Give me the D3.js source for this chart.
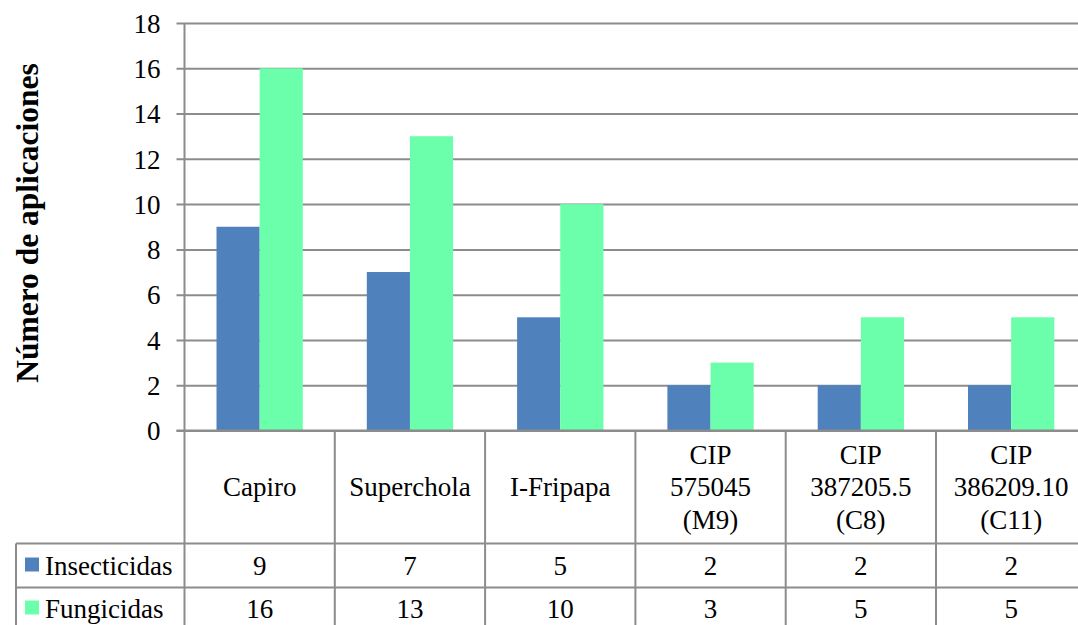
<!DOCTYPE html>
<html>
<head>
<meta charset="utf-8">
<script src="https://cdn.jsdelivr.net/npm/d3@7"></script>
</head>
<body style="margin:0;padding:0;background:#fff">
<svg id="chart" width="1078" height="625" style="display:block;font-family:'Liberation Serif'"></svg>
<script>
// Chart data
const categories = [
  ["Capiro"],
  ["Superchola"],
  ["I-Fripapa"],
  ["CIP", "575045", "(M9)"],
  ["CIP", "387205.5", "(C8)"],
  ["CIP", "386209.10", "(C11)"]
];
const seriesNames = ["Insecticidas", "Fungicidas"];
const insecticidas = [9, 7, 5, 2, 2, 2];
const fungicidas = [16, 13, 10, 3, 5, 5];
const yTicks = [0, 2, 4, 6, 8, 10, 12, 14, 16, 18];
const yTitle = "Número de aplicaciones";

const seriesValues = [insecticidas, fungicidas];
const colors = ["#4F81BD", "#6CFFAB"];
const gridColor = "#8C8C8C";
const TEXT_STYLE = "font-family:'Liberation Serif';font-size:27px;fill:#000";
const TITLE_STYLE = "font-family:'Liberation Serif';font-size:31.5px;font-weight:bold;fill:#000";

const svg = d3.select("#chart");

// Layout
const plotLeft = 184.5, plotTop = 23, plotBottom = 430.5;
const catWidth = 150.3;
const plotRight = plotLeft + catWidth * categories.length;
const headerBottom = 543.5, row1Bottom = 587.5, row2Bottom = 631.5;
const tableLeft = 16;

const catIdx = d3.range(categories.length);
const x = d3.scaleBand().domain(catIdx).range([plotLeft, plotRight]);
const xInner = d3.scaleBand().domain(d3.range(seriesNames.length)).range([32, catWidth - 32]);
const y = d3.scaleLinear().domain([0, 18]).range([plotBottom, plotTop]);

// Horizontal gridlines with outside tick marks
const yAxis = d3.axisLeft(y).tickValues(yTicks).tickSize(-(plotRight - plotLeft)).tickFormat(d3.format("d"));
const gy = svg.append("g").attr("transform", `translate(${plotLeft},0)`).call(yAxis);
gy.attr("font-family", null).attr("font-size", null);
gy.select(".domain").remove();
gy.selectAll(".tick line").attr("stroke", gridColor).attr("stroke-width", 2).attr("x1", -8);
gy.selectAll(".tick text").attr("x", -24).attr("dy", "0.34em").attr("fill", null).attr("style", TEXT_STYLE);

// Bars
seriesValues.forEach((vals, s) => {
  svg.append("g").selectAll("rect").data(vals).join("rect")
    .attr("x", (d, i) => x(i) + xInner(s))
    .attr("width", xInner.bandwidth())
    .attr("y", d => y(d))
    .attr("height", d => y(0) - y(d))
    .attr("fill", colors[s]);
});

// Vertical axis line
svg.append("line").attr("x1", plotLeft).attr("x2", plotLeft)
  .attr("y1", plotTop).attr("y2", row2Bottom).attr("stroke", gridColor).attr("stroke-width", 2);

// Baseline drawn over the bars
svg.append("line").attr("x1", plotLeft - 8).attr("x2", plotRight)
  .attr("y1", plotBottom).attr("y2", plotBottom).attr("stroke", gridColor).attr("stroke-width", 2);

// Data table: vertical separators
svg.append("g").selectAll("line").data(catIdx.slice(1).concat([categories.length])).join("line")
  .attr("x1", i => plotLeft + i * catWidth).attr("x2", i => plotLeft + i * catWidth)
  .attr("y1", plotBottom).attr("y2", row2Bottom)
  .attr("stroke", gridColor).attr("stroke-width", 2);
// Legend column left border
svg.append("line").attr("x1", tableLeft).attr("x2", tableLeft)
  .attr("y1", headerBottom).attr("y2", row2Bottom).attr("stroke", gridColor).attr("stroke-width", 2);
// Row separators
[headerBottom, row1Bottom].forEach(yy => {
  svg.append("line").attr("x1", tableLeft).attr("x2", plotRight)
    .attr("y1", yy).attr("y2", yy).attr("stroke", gridColor).attr("stroke-width", 2);
});

// Category labels in the header row
const headerMid = (plotBottom + headerBottom) / 2;
const lineH = 32.5;
categories.forEach((lines, i) => {
  const cx = x(i) + x.bandwidth() / 2;
  const t = svg.append("text").attr("text-anchor", "middle").attr("style", TEXT_STYLE);
  lines.forEach((ln, k) => {
    t.append("tspan").attr("x", cx)
      .attr("y", headerMid + (k - (lines.length - 1) / 2) * lineH)
      .attr("dy", "0.34em").text(ln);
  });
});

// Value rows with legend keys
const rowMids = [(headerBottom + row1Bottom) / 2, (row1Bottom + row2Bottom) / 2 - 1];
seriesValues.forEach((vals, s) => {
  const ry = rowMids[s];
  svg.append("rect").attr("x", 25).attr("y", ry - 8).attr("width", 14).attr("height", 14).attr("fill", colors[s]);
  svg.append("text").attr("x", 45).attr("y", ry).attr("dy", "0.34em")
    .attr("style", TEXT_STYLE).text(seriesNames[s]);
  svg.append("g").selectAll("text").data(vals).join("text")
    .attr("x", (d, i) => x(i) + x.bandwidth() / 2)
    .attr("y", ry).attr("dy", "0.34em")
    .attr("text-anchor", "middle").attr("style", TEXT_STYLE)
    .text(d => d);
});

// Y axis title
svg.append("text")
  .attr("transform", `translate(38,223) rotate(-90)`)
  .attr("text-anchor", "middle")
  .attr("style", TITLE_STYLE)
  .text(yTitle);
</script>
</body>
</html>
